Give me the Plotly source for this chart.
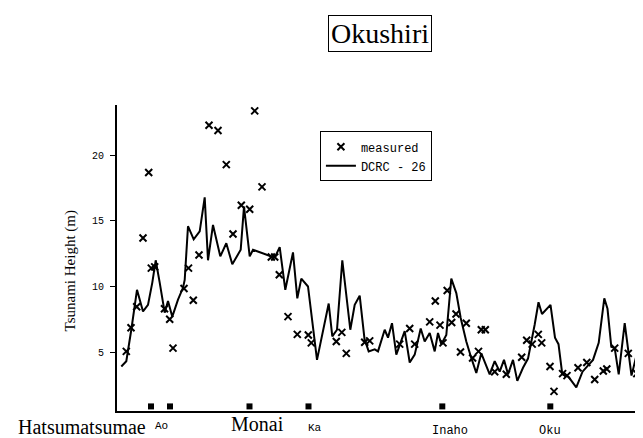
import plotly.graph_objects as go

# Position along coast (arbitrary units) and heights (m)
model_x = [4.3, 9.3, 14.3, 20, 26, 31, 35.3, 38.7, 42.7, 47.7, 51, 55.3, 61, 66, 67.7, 71, 76.7, 82.7, 87.7, 91,
           96, 103.3, 109.3, 115.3, 123.7, 127, 132.7, 136, 156, 159, 162.7, 168.3, 176, 180.3, 184.3, 187.7, 191,
           200, 206, 211.7, 215.3, 220, 225.3, 233.3, 237.7, 242.7, 247.5, 251.7, 257.7, 261, 267.7, 271, 275,
           279.3, 287.7, 292.7, 297.7, 303.7, 307.7, 312.7, 317.7, 321, 324.3, 329.3, 334.3, 339.3, 343.7, 349.3,
           354.3, 359.3, 364.3, 372.7, 377.7, 382.7, 387, 391, 396, 400.3, 406, 411, 417.7, 421.5, 425, 433.5, 438,
           441.5, 445.3, 451.5, 459.3, 465.5, 476, 481.7, 487.3, 490.5, 494.3, 497.7, 501.7, 507.7, 514.5, 520.3]
model_h = [3.9, 4.3, 6.7, 9.75, 8.1, 8.6, 10.3, 12.0, 10.3, 8.0, 8.9, 7.7, 9.0, 9.9, 10.5, 14.6, 13.6, 14.2, 16.8, 12.0,
           14.7, 12.3, 13.3, 11.7, 12.8, 16.1, 12.3, 12.8, 12.25, 12.4, 13.0, 9.75, 12.6, 9.1, 10.6, 10.3, 10.0,
           4.4, 6.7, 8.7, 6.2, 6.7, 12.0, 6.7, 8.6, 9.3, 6.0, 5.05, 5.2, 5.05, 6.7, 6.1, 7.2,
           4.8, 6.6, 4.2, 4.8, 6.8, 5.8, 6.45, 5.05, 6.45, 5.6, 6.3, 10.6, 9.5, 7.6, 5.8,
           4.55, 3.4, 4.9, 3.3, 4.3, 3.5, 4.4, 3.3, 4.4, 2.8, 3.8, 4.5, 7.1, 8.8, 7.9, 8.6, 6.1,
           5.6, 3.3, 3.1, 2.3, 3.5, 4.4, 5.7, 9.1, 8.3, 5.4, 5.3, 3.3, 7.2, 3.2, 5.0]

meas_x = [9.3, 14, 19.7, 26, 31.7, 34.3, 37.7, 47.5, 52.7, 56, 67, 71.5, 76.3, 82, 92, 101, 109.3, 116, 124.3, 132.7,
          137.7, 145, 154.3, 157.7, 162.3, 171, 180.3, 191.3, 194.3, 219.3, 224.8, 229.3, 247.7, 252.7, 282.7,
          292.7, 297.7, 312.7, 318.3, 323, 326, 330.2, 334.7, 339, 343.5, 349.3, 355.6, 361.5, 364.3, 368.3,
          377.7, 389.3, 404.7, 409.7, 415.2, 421.3, 424.7, 433, 437, 445.6, 450, 461, 469.8, 477.7, 486.3, 489.8,
          497.7, 511.3, 519.8]
meas_h = [5.05, 6.85, 8.45, 13.7, 18.7, 11.4, 11.5, 8.3, 7.5, 5.3, 9.85, 11.4, 8.95, 12.4, 22.3, 21.9, 19.3, 14.0, 16.2, 15.9,
          23.4, 17.6, 12.25, 12.25, 10.9, 7.7, 6.35, 6.3, 5.7, 5.8, 6.5, 4.9, 5.75, 5.85, 5.6,
          6.8, 5.6, 7.3, 8.9, 7.05, 5.7, 9.7, 7.25, 7.9, 5.0, 7.2, 4.55, 5.05, 6.7, 6.7,
          3.5, 3.3, 4.6, 5.9, 5.6, 6.35, 5.7, 3.9, 2.0, 3.35, 3.2, 3.8, 4.2, 2.9, 3.55, 3.7,
          5.3, 4.9, 3.35]

town_x = [34, 53, 132.5, 191.5, 325.3, 433.3]
town_h = [0.85, 0.85, 0.85, 0.85, 0.85, 0.85]

y_ticks = [5, 10, 15, 20]

fig = go.Figure()
fig.add_trace(go.Scatter(x=meas_x, y=meas_h, mode="markers", name="measured",
                         marker=dict(symbol="x-thin", size=7, color="black",
                                     line=dict(color="black", width=2))))
fig.add_trace(go.Scatter(x=model_x, y=model_h, mode="lines", name="DCRC - 26",
                         line=dict(color="black", width=2)))
fig.add_trace(go.Scatter(x=town_x, y=town_h, mode="markers", showlegend=False,
                         marker=dict(symbol="square", size=6, color="black")))

fig.update_layout(
    width=643, height=438,
    margin=dict(l=109, r=0, t=97, b=35),
    paper_bgcolor="white", plot_bgcolor="white",
    showlegend=True,
    legend=dict(x=0.38, y=0.914, xanchor="left", yanchor="top",
                bordercolor="black", borderwidth=1, bgcolor="white",
                font=dict(family="Liberation Mono", size=12, color="black")),
    xaxis=dict(range=[0, 534], showline=True, linecolor="black", linewidth=1.5,
               showgrid=False, zeroline=False, showticklabels=False, ticks=""),
    yaxis=dict(range=[0.5, 23.85], showline=True, linecolor="black", linewidth=2,
               showgrid=False, zeroline=False, tickvals=y_ticks, ticks="outside",
               ticklen=5, tickcolor="black", ticklabelstandoff=4,
               tickfont=dict(family="Liberation Mono", size=10, color="black")),
)

ann = [
    dict(text="Okushiri", x=0.4925, y=1.233, xref="paper", yref="paper", showarrow=False,
         xanchor="center", yanchor="middle", bordercolor="black", borderwidth=1, borderpad=2,
         font=dict(family="Liberation Serif", size=28, color="black")),
    dict(text="Tsunami Height (m)", x=-0.088, y=0.456, xref="paper", yref="paper", showarrow=False,
         textangle=-90, xanchor="center", yanchor="middle",
         font=dict(family="Liberation Serif", size=15, color="black")),
    dict(text="Hatsumatsumae", x=-0.189, y=-0.052, xref="paper", yref="paper", showarrow=False,
         xanchor="left", yanchor="middle", font=dict(family="Liberation Serif", size=20, color="black")),
    dict(text="Ao", x=0.0674, y=-0.049, xref="paper", yref="paper", showarrow=False,
         xanchor="left", yanchor="middle", font=dict(family="Liberation Mono", size=11, color="black")),
    dict(text="Monai", x=0.2097, y=-0.044, xref="paper", yref="paper", showarrow=False,
         xanchor="left", yanchor="middle", font=dict(family="Liberation Serif", size=20, color="black")),
    dict(text="Ka", x=0.354, y=-0.056, xref="paper", yref="paper", showarrow=False,
         xanchor="left", yanchor="middle", font=dict(family="Liberation Mono", size=11, color="black")),
    dict(text="Inaho", x=0.586, y=-0.065, xref="paper", yref="paper", showarrow=False,
         xanchor="left", yanchor="middle", font=dict(family="Liberation Mono", size=12, color="black")),
    dict(text="Oku", x=0.7865, y=-0.065, xref="paper", yref="paper", showarrow=False,
         xanchor="left", yanchor="middle", font=dict(family="Liberation Mono", size=12, color="black")),
]
fig.update_layout(annotations=ann)

fig.write_html("out.html")
